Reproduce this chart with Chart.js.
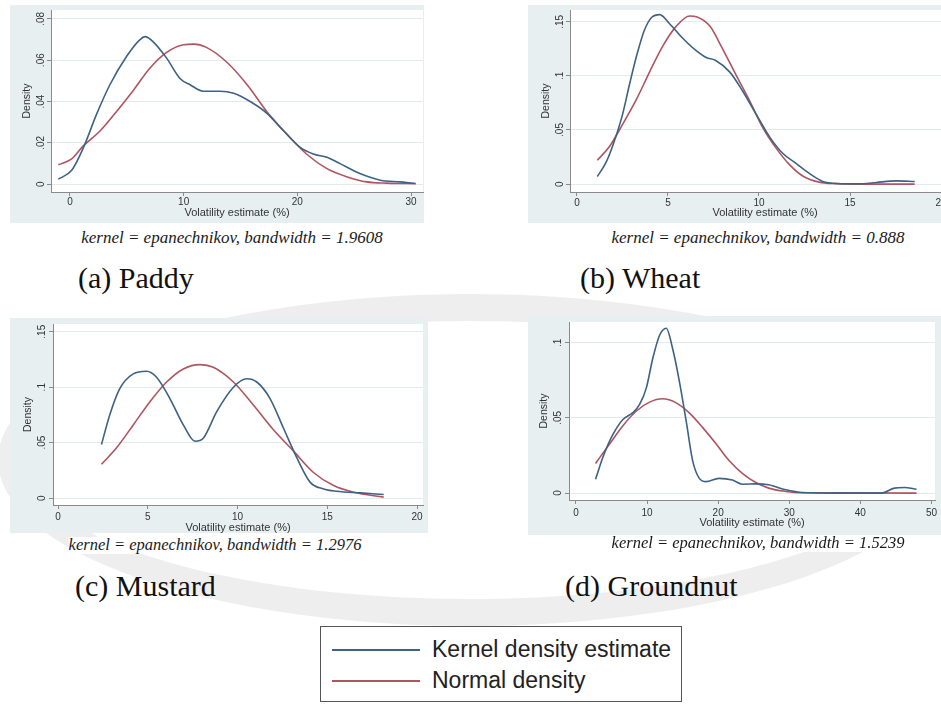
<!DOCTYPE html>
<html>
<head>
<meta charset="utf-8">
<script src="https://cdn.jsdelivr.net/npm/chart.js@4/dist/chart.umd.min.js"></script>
<style>
html,body{margin:0;padding:0;width:941px;height:704px;overflow:hidden;background:#fff;}
body{position:relative;}
#wm{position:absolute;left:-2px;top:294px;width:944px;height:332px;border-radius:50%;border:27px solid rgba(0,0,0,0.065);box-sizing:border-box;}
.panel{position:absolute;background:#e8eff1;}
.panel canvas{display:block;}
.kcap{position:absolute;font-family:"Liberation Serif","Times New Roman",serif;font-style:italic;font-size:17px;color:#1a1a1a;white-space:nowrap;transform:translateX(-50%);line-height:1;background:#fff;}
.sub{position:absolute;font-family:"Liberation Serif","Times New Roman",serif;font-size:30px;color:#111;white-space:nowrap;line-height:1;}
#legend{position:absolute;left:320px;top:626px;width:362px;height:76px;border:1.5px solid #555;box-sizing:border-box;background:#fff;font-family:"Liberation Sans",Arial,sans-serif;font-size:23px;color:#222;}
#legend .li{position:absolute;left:11px;height:26px;line-height:26px;white-space:nowrap;}
#legend .sw{display:inline-block;width:88px;height:2px;vertical-align:middle;margin-right:12px;position:relative;top:-1px;}
</style>
</head>
<body>
<div id="wm"></div>
<div id="root"></div>
<div id="legend"></div>
<script>
// ---------- data ----------
const categories = ['Paddy', 'Wheat', 'Mustard', 'Groundnut'];
const captionLetters = ['(a)', '(b)', '(c)', '(d)'];
const bandwidths = ['1.9608', '0.888', '1.2976', '1.5239'];
const seriesNames = ['Kernel density estimate', 'Normal density'];
const xAxisTitle = 'Volatility estimate (%)';
const yAxisTitle = 'Density';

// Paddy
const paddyKdeX = [-1.03, 0.15, 1.17, 2.35, 3.5, 5.0, 6.16, 6.6, 7.3, 8.5, 9.7, 10.6, 11.7, 13.2, 14.4, 15.85, 17.3, 18.8, 20.25, 21.4, 22.6, 23.8, 25.5, 27.3, 29.1, 30.4];
const paddyKdeY = [0.0024, 0.0067, 0.0175, 0.034, 0.048, 0.062, 0.070, 0.0714, 0.069, 0.061, 0.051, 0.048, 0.045, 0.045, 0.044, 0.040, 0.0344, 0.0257, 0.0178, 0.0146, 0.013, 0.0098, 0.0051, 0.0019, 0.0011, 0.0003];
const paddyNormX = [-1.03, 0.15, 1.17, 2.64, 4.1, 5.6, 7.0, 8.5, 10.0, 10.9, 12.0, 13.8, 15.6, 17.3, 19.1, 20.8, 22.6, 24.4, 26.1, 27.9, 30.4];
const paddyNormY = [0.0094, 0.0122, 0.0185, 0.0257, 0.0352, 0.0456, 0.056, 0.0638, 0.0675, 0.0678, 0.0662, 0.059, 0.048, 0.0352, 0.0241, 0.0146, 0.0075, 0.0035, 0.0011, 0.0005, 0.0002];
const paddyXTicks = [0, 10, 20, 30];
const paddyYTicks = [0, 0.02, 0.04, 0.06, 0.08];

// Wheat
const wheatKdeX = [1.12, 1.6, 2.0, 2.5, 2.9, 3.3, 3.7, 4.1, 4.55, 5.1, 5.8, 6.5, 7.1, 7.6, 8.4, 9.1, 9.85, 10.6, 11.3, 12.05, 12.8, 13.5, 14.25, 15.7, 16.45, 17.55, 18.55];
const wheatKdeY = [0.007, 0.02, 0.037, 0.064, 0.093, 0.12, 0.142, 0.154, 0.1566, 0.148, 0.135, 0.124, 0.117, 0.1145, 0.1035, 0.086, 0.0644, 0.0432, 0.0285, 0.019, 0.0095, 0.0025, 0.0006, 0.0003, 0.0015, 0.003, 0.0024];
const wheatNormX = [1.12, 1.8, 2.5, 3.26, 4.0, 4.73, 5.46, 6.2, 6.6, 7.3, 8.0, 8.75, 9.5, 10.2, 10.95, 11.7, 12.4, 13.3, 14.25, 15.5, 18.55];
const wheatNormY = [0.022, 0.035, 0.055, 0.078, 0.104, 0.128, 0.146, 0.1553, 0.1545, 0.146, 0.125, 0.1005, 0.0765, 0.0525, 0.033, 0.0175, 0.0075, 0.0018, 0.0004, 0.0, 0.0];
const wheatXTicks = [0, 5, 10, 15, 20];
const wheatYTicks = [0, 0.05, 0.1, 0.15];

// Mustard
const mustardKdeX = [2.42, 2.88, 3.44, 4.19, 4.93, 5.49, 6.23, 6.98, 7.63, 8.09, 8.84, 9.77, 10.51, 11.07, 11.81, 12.56, 13.3, 14.05, 14.79, 15.53, 16.84, 18.14];
const mustardKdeY = [0.0483, 0.075, 0.0987, 0.112, 0.1144, 0.109, 0.0898, 0.066, 0.0513, 0.054, 0.078, 0.100, 0.1076, 0.1047, 0.0898, 0.063, 0.0365, 0.0142, 0.0083, 0.0062, 0.0047, 0.0033];
const mustardNormX = [2.42, 3.26, 4.19, 5.12, 6.05, 6.98, 7.91, 8.65, 9.77, 10.88, 12.0, 13.12, 14.23, 15.35, 16.47, 18.14];
const mustardNormY = [0.0305, 0.0454, 0.066, 0.0869, 0.1047, 0.1165, 0.1204, 0.118, 0.1047, 0.084, 0.0617, 0.0424, 0.0231, 0.0113, 0.0053, 0.0009];
const mustardXTicks = [0, 5, 10, 15, 20];
const mustardYTicks = [0, 0.05, 0.1, 0.15];

// Groundnut
const groundnutKdeX = [2.75, 3.8, 5.2, 6.6, 8.0, 8.95, 9.9, 10.8, 11.75, 12.7, 13.6, 14.55, 15.5, 16.4, 17.35, 18.3, 20.1, 22.0, 23.4, 25.3, 27.1, 29.5, 31.8, 36.5, 43.0, 44.8, 46.2, 47.9];
const groundnutKdeY = [0.0092, 0.024, 0.039, 0.049, 0.0535, 0.059, 0.070, 0.0895, 0.1048, 0.1096, 0.096, 0.0742, 0.048, 0.0218, 0.0098, 0.0076, 0.0098, 0.0087, 0.0059, 0.0061, 0.0055, 0.0022, 0.0004, 0.0, 0.0, 0.0033, 0.0037, 0.0026];
const groundnutNormX = [2.75, 4.75, 6.6, 8.5, 10.35, 12.2, 14.1, 15.9, 17.8, 19.7, 21.5, 23.4, 25.3, 27.1, 29.5, 31.8, 47.9];
const groundnutNormY = [0.0197, 0.0328, 0.0448, 0.0546, 0.0605, 0.0627, 0.060, 0.0535, 0.0437, 0.0328, 0.0218, 0.0131, 0.007, 0.0033, 0.0011, 0.0002, 0.0];
const groundnutXTicks = [0, 10, 20, 30, 40, 50];
const groundnutYTicks = [0, 0.05, 0.1];

// ---------- layout / styling ----------
const kdeColor = '#3d6283';
const normColor = '#ad5560';

const panels = [
  {kx: paddyKdeX, ky: paddyKdeY, nx: paddyNormX, ny: paddyNormY, xt: paddyXTicks, yt: paddyYTicks,
   box: [10, 5, 414, 218], yw: 41, xh: 31, padT: 2, padR: 1, xr: [-1.67, 31.05], yr: [-0.0038, 0.0843],
   xTitlePad: 4.5, xTickPad: 0, yTitlePad: 12, yTickPad: -1, cap: [232, 229], capSize: 17, sub: [78, 263]},
  {kx: wheatKdeX, ky: wheatKdeY, nx: wheatNormX, ny: wheatNormY, xt: wheatXTicks, yt: wheatYTicks,
   box: [528, 5, 432, 218], yw: 42, xh: 31, padT: 2, padR: 0, xr: [-0.38, 21.04], yr: [-0.0073, 0.1609],
   xTitlePad: 4.5, xTickPad: 1, yTitlePad: 13, yTickPad: -1, cap: [758, 229], capSize: 17, sub: [580, 263]},
  {kx: mustardKdeX, ky: mustardKdeY, nx: mustardNormX, ny: mustardNormY, xt: mustardXTicks, yt: mustardYTicks,
   box: [10, 318, 418, 215], yw: 43, xh: 28, padT: 3, padR: 5, xr: [-0.28, 20.33], yr: [-0.0062, 0.157],
   xTitlePad: 0, xTickPad: 2, yTitlePad: 13, yTickPad: 0, cap: [215, 537], capSize: 16.5, sub: [75, 571]},
  {kx: groundnutKdeX, ky: groundnutKdeY, nx: groundnutNormX, ny: groundnutNormY, xt: groundnutXTicks, yt: groundnutYTicks,
   box: [528, 316, 413, 219], yw: 41, xh: 35, padT: 4, padR: 6, xr: [-0.98, 50.5], yr: [-0.0046, 0.1138],
   xTitlePad: 6.5, xTickPad: 3, yTitlePad: 11, yTickPad: 0, cap: [758, 535], capSize: 16.5, sub: [565, 571]}
];

Chart.defaults.font.family = '"Liberation Sans", Arial, sans-serif';
Chart.defaults.color = '#333';

const plotBg = {
  id: 'plotBg',
  beforeDraw(c) {
    const a = c.chartArea;
    c.ctx.save();
    c.ctx.fillStyle = '#ffffff';
    c.ctx.fillRect(a.left, a.top, a.right - a.left, a.bottom - a.top);
    c.ctx.restore();
  }
};

const fmtY = v => (v === 0 ? '0' : String(v).replace(/^0\./, '.'));
const pts = (xs, ys) => xs.map((x, i) => ({x: x, y: ys[i]}));

const root = document.getElementById('root');
panels.forEach((p, i) => {
  const d = document.createElement('div');
  d.className = 'panel';
  d.style.left = p.box[0] + 'px';
  d.style.top = p.box[1] + 'px';
  d.style.width = p.box[2] + 'px';
  d.style.height = p.box[3] + 'px';
  const cv = document.createElement('canvas');
  d.appendChild(cv);
  root.appendChild(d);

  const cap = document.createElement('div');
  cap.className = 'kcap';
  cap.style.left = p.cap[0] + 'px';
  cap.style.top = p.cap[1] + 'px';
  cap.style.fontSize = p.capSize + 'px';
  cap.textContent = 'kernel = epanechnikov, bandwidth = ' + bandwidths[i];
  root.appendChild(cap);

  const sub = document.createElement('div');
  sub.className = 'sub';
  sub.style.left = p.sub[0] + 'px';
  sub.style.top = p.sub[1] + 'px';
  sub.textContent = captionLetters[i] + ' ' + categories[i];
  root.appendChild(sub);

  new Chart(cv, {
    type: 'line',
    data: {
      datasets: [
        {label: seriesNames[0], data: pts(p.kx, p.ky), borderColor: kdeColor, borderWidth: 1.6, pointRadius: 0, cubicInterpolationMode: 'monotone', fill: false},
        {label: seriesNames[1], data: pts(p.nx, p.ny), borderColor: normColor, borderWidth: 1.6, pointRadius: 0, cubicInterpolationMode: 'monotone', fill: false}
      ]
    },
    options: {
      responsive: true,
      maintainAspectRatio: false,
      animation: false,
      devicePixelRatio: 1,
      layout: {padding: {top: p.padT, right: p.padR, left: 0, bottom: 0}},
      plugins: {legend: {display: false}, tooltip: {enabled: false}},
      scales: {
        x: {
          type: 'linear', min: p.xr[0], max: p.xr[1],
          afterBuildTicks: s => { s.ticks = p.xt.map(v => ({value: v})); },
          afterFit: s => { s.height = p.xh; },
          ticks: {autoSkip: false, maxRotation: 0, minRotation: 0, padding: p.xTickPad, font: {size: 10}, color: '#333', callback: v => String(v)},
          grid: {drawOnChartArea: false, drawTicks: true, tickLength: 4, tickColor: '#8a8a8a'},
          border: {display: true, color: '#8a8a8a', width: 1},
          title: {display: true, text: xAxisTitle, font: {size: 11, lineHeight: 1}, color: '#333', padding: {top: 0, bottom: p.xTitlePad}}
        },
        y: {
          type: 'linear', min: p.yr[0], max: p.yr[1],
          afterBuildTicks: s => { s.ticks = p.yt.map(v => ({value: v})); },
          afterFit: s => { s.width = p.yw; },
          ticks: {autoSkip: false, minRotation: 90, maxRotation: 90, crossAlign: 'center', padding: p.yTickPad, font: {size: 10}, color: '#333', callback: fmtY},
          grid: {color: '#e3eaec', lineWidth: 1, drawTicks: true, tickLength: 4, tickColor: '#8a8a8a'},
          border: {display: true, color: '#8a8a8a', width: 1},
          title: {display: true, text: yAxisTitle, font: {size: 10.5, lineHeight: 1}, color: '#333', padding: {top: p.yTitlePad, bottom: 0}}
        }
      }
    },
    plugins: [plotBg]
  });
});

// legend
const lg = document.getElementById('legend');
[kdeColor, normColor].forEach((c, i) => {
  const li = document.createElement('div');
  li.className = 'li';
  li.style.top = (i === 0 ? 9 : 40) + 'px';
  const sw = document.createElement('span');
  sw.className = 'sw';
  sw.style.background = c;
  li.appendChild(sw);
  li.appendChild(document.createTextNode(seriesNames[i]));
  lg.appendChild(li);
});
</script>
</body>
</html>
